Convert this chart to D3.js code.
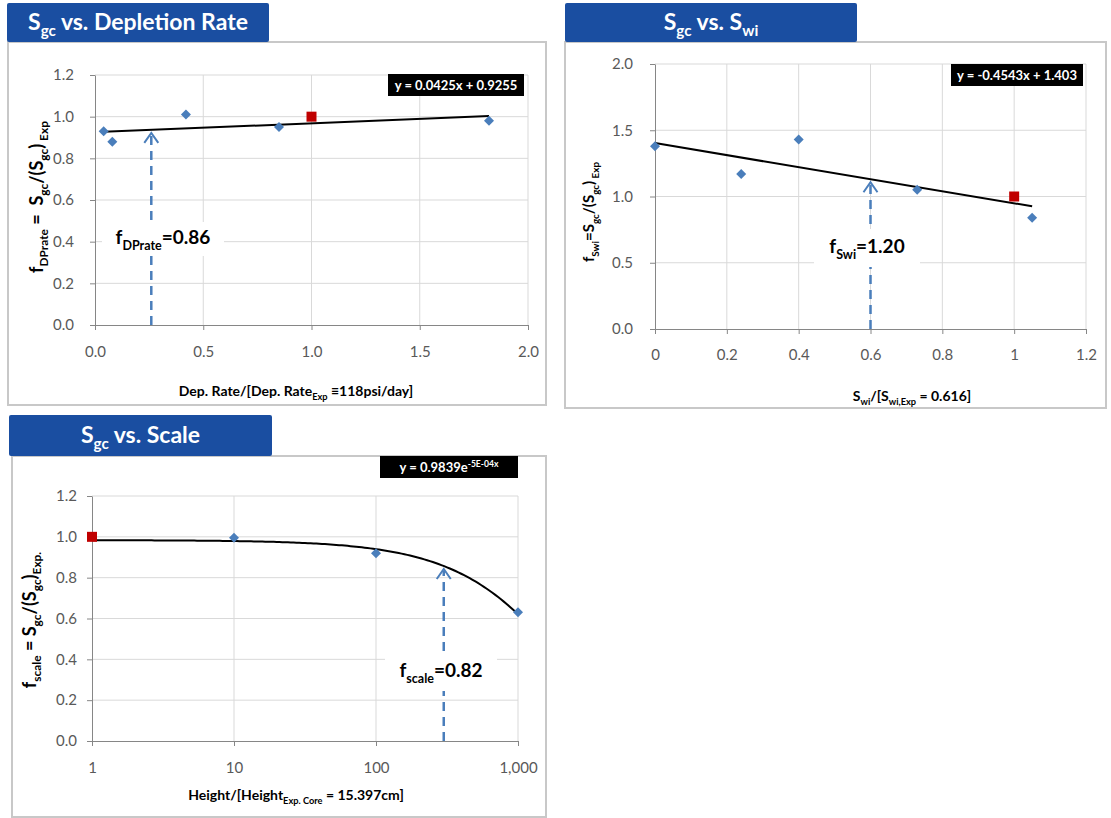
<!DOCTYPE html>
<html>
<head>
<meta charset="utf-8">
<script src="https://cdn.jsdelivr.net/npm/d3@7"></script>
<style>
  html, body { margin: 0; padding: 0; background: #fff; }
  svg { display: block; font-family: Lato, "Open Sans", sans-serif; }
  text { white-space: pre; }
</style>
</head>
<body>
<svg id="chart" width="1111" height="818"></svg>
<script>
// ---- data ----
// Sgc vs. Depletion Rate
const dpRateX = [0.04, 0.08, 0.42, 0.85, 1.82];
const dpRateY = [0.93, 0.88, 1.01, 0.95, 0.98];
const dpRefX = [1.0];
const dpRefY = [1.0];
const dpTicksX = [0, 0.5, 1.0, 1.5, 2.0];
const dpTicksY = [0, 0.2, 0.4, 0.6, 0.8, 1.0, 1.2];
const dpTrend = [0.0425, 0.9255]; // slope, intercept
const dpPickX = 0.26;
const dpPickLabel = "0.86";

// Sgc vs. Swi
const swiX = [0, 0.24, 0.40, 0.73, 1.05];
const swiY = [1.38, 1.17, 1.43, 1.05, 0.84];
const swiRefX = [1.0];
const swiRefY = [1.0];
const swiTicksX = [0, 0.2, 0.4, 0.6, 0.8, 1, 1.2];
const swiTicksY = [0, 0.5, 1.0, 1.5, 2.0];
const swiTrend = [-0.4543, 1.403];
const swiPickX = 0.6;
const swiPickLabel = "1.20";

// Sgc vs. Scale
const scaleX = [10, 100, 1000];
const scaleY = [0.995, 0.92, 0.63];
const scaleRefX = [1];
const scaleRefY = [1.0];
const scaleTicksX = [1, 10, 100, 1000];
const scaleTicksY = [0, 0.2, 0.4, 0.6, 0.8, 1.0, 1.2];
const scaleTrend = [0.9839, -4.6e-4]; // a, k  (y = a e^(k x))
const scalePickX = 300;
const scalePickLabel = "0.82";

const BLUE = "#4a7ebb";
const RED = "#c00000";
const TITLE_BG = "#1a4ea1";

const svg = d3.select("#chart");

// text with sub / superscript parts
function rich(sel, parts, fs) {
  let shift = 0;
  parts.forEach(p => {
    const [t, mode] = Array.isArray(p) ? p : [p, null];
    const target = mode === "sub" ? fs * 0.3 : mode === "sup" ? -fs * 0.42 : 0;
    sel.append("tspan")
      .attr("dy", target - shift)
      .style("font-size", (mode ? fs * 0.66 : fs) + "px")
      .text(t);
    shift = target;
  });
  return sel;
}

function drawChart(c) {
  const g = svg.append("g");

  // panel frame + title tab
  g.append("rect")
    .attr("x", c.panel[0]).attr("y", c.panel[1])
    .attr("width", c.panel[2]).attr("height", c.panel[3])
    .attr("fill", "#fff").attr("stroke", "#c8c8c8").attr("stroke-width", 2);
  g.append("rect")
    .attr("x", c.title[0]).attr("y", c.title[1])
    .attr("width", c.title[2]).attr("height", c.title[3])
    .attr("rx", 2).attr("fill", TITLE_BG);
  rich(g.append("text")
    .attr("x", c.title[0] + c.title[2] / 2).attr("y", c.title[1] + c.title[3] / 2 + 7)
    .attr("text-anchor", "middle").attr("fill", "#fff").attr("font-weight", "bold"),
    c.titleText, 23);

  const x = c.x, y = c.y;
  const [x0, x1] = x.range();
  const [y0, y1] = y.range();

  // gridlines
  g.append("g").selectAll("line").data(c.ticksY.slice(1)).join("line")
    .attr("x1", x0).attr("x2", x1)
    .attr("y1", d => y(d)).attr("y2", d => y(d))
    .attr("stroke", "#d9d9d9").attr("stroke-width", 1);
  g.append("g").selectAll("line").data(c.ticksX.slice(1)).join("line")
    .attr("x1", d => x(d)).attr("x2", d => x(d))
    .attr("y1", y0).attr("y2", y1)
    .attr("stroke", "#d9d9d9").attr("stroke-width", 1);

  // axes
  const xAxis = g.append("g")
    .attr("transform", `translate(0,${y0})`)
    .call(d3.axisBottom(x).tickValues(c.ticksX).tickFormat(c.fmtX)
      .tickSize(5).tickSizeOuter(0).tickPadding(c.padX));
  const yAxis = g.append("g")
    .attr("transform", `translate(${x0},0)`)
    .call(d3.axisLeft(y).tickValues(c.ticksY).tickFormat(c.fmtY)
      .tickSize(5).tickSizeOuter(0).tickPadding(c.padY));
  [xAxis, yAxis].forEach(a => {
    a.select(".domain").attr("stroke", "#868686");
    a.selectAll(".tick line").attr("stroke", "#868686");
    a.selectAll(".tick text").attr("fill", "#595959")
      .style("font-size", "15px").style("font-family", "Lato, 'Open Sans', sans-serif");
  });

  // axis titles
  rich(g.append("text")
    .attr("x", c.xTitle[0]).attr("y", c.xTitle[1])
    .attr("text-anchor", "middle").attr("font-weight", "bold").attr("fill", "#000"),
    c.xTitleText, 14);
  rich(g.append("text")
    .attr("transform", `translate(${c.yTitle[0]},${c.yTitle[1]}) rotate(-90)`)
    .attr("text-anchor", "middle").attr("font-weight", "bold").attr("fill", "#000"),
    c.yTitleText, c.yTitleSize);

  // trend line
  g.append("path")
    .datum(c.trendPts)
    .attr("d", d3.line().x(d => x(d[0])).y(d => y(d[1])))
    .attr("fill", "none").attr("stroke", "#000").attr("stroke-width", 2);

  // markers
  const pts = c.xs.map((v, i) => [v, c.ys[i]]);
  g.append("g").selectAll("path").data(pts).join("path")
    .attr("d", d3.symbol(d3.symbolSquare, 50))
    .attr("transform", d => `translate(${x(d[0])},${y(d[1])}) rotate(45)`)
    .attr("fill", BLUE);
  const refs = c.refX.map((v, i) => [v, c.refY[i]]);
  g.append("g").selectAll("path").data(refs).join("path")
    .attr("d", d3.symbol(d3.symbolSquare, 100))
    .attr("transform", d => `translate(${x(d[0])},${y(d[1])})`)
    .attr("fill", RED);

  // pick arrow
  const ax = x(c.pickX);
  const tip = y(c.trend(c.pickX)) + 3;
  g.append("line")
    .attr("x1", ax).attr("x2", ax).attr("y1", y0).attr("y2", tip + 2)
    .attr("stroke", BLUE).attr("stroke-width", 2.5).attr("stroke-dasharray", "9 6");
  g.append("path")
    .attr("d", `M${ax - 7},${tip + 10}L${ax},${tip}L${ax + 7},${tip + 10}`)
    .attr("fill", "none").attr("stroke", BLUE).attr("stroke-width", 2);

  // pick label
  const lb = c.pickBox;
  g.append("rect").attr("x", lb[0]).attr("y", lb[1]).attr("width", lb[2]).attr("height", lb[3])
    .attr("fill", "#fff");
  rich(g.append("text")
    .attr("x", lb[0] + lb[2] / 2).attr("y", lb[1] + lb[3] / 2 + 5)
    .attr("text-anchor", "middle").attr("font-weight", "bold").attr("fill", "#000"),
    c.pickText, 19);

  // equation box
  const eb = c.eqBox;
  g.append("rect").attr("x", eb[0]).attr("y", eb[1]).attr("width", eb[2]).attr("height", eb[3])
    .attr("fill", "#000");
  rich(g.append("text")
    .attr("x", eb[0] + eb[2] / 2).attr("y", eb[1] + eb[3] / 2 + 5)
    .attr("text-anchor", "middle").attr("font-weight", "bold").attr("fill", "#fff"),
    c.eqText, 13);
}

// chart 1
const lin1 = v => dpTrend[0] * v + dpTrend[1];
drawChart({
  panel: [8, 42, 538, 363],
  title: [7, 3, 262, 39],
  titleText: ["S", ["gc", "sub"], " vs. Depletion Rate"],
  x: d3.scaleLinear().domain([0, 2]).range([95, 528]),
  y: d3.scaleLinear().domain([0, 1.2]).range([325, 75]),
  ticksX: dpTicksX, ticksY: dpTicksY,
  fmtX: d3.format(".1f"), fmtY: d3.format(".1f"),
  padX: 16, padY: 16,
  xTitle: [296, 396],
  xTitleText: ["Dep. Rate/[Dep. Rate", ["Exp", "sub"], " \u2261118psi/day]"],
  yTitle: [43, 197], yTitleSize: 18,
  yTitleText: ["f", ["DPrate", "sub"], " =  S", ["gc", "sub"], "/(S", ["gc", "sub"], ")", [" Exp", "sub"]],
  xs: dpRateX, ys: dpRateY, refX: dpRefX, refY: dpRefY,
  trend: lin1,
  trendPts: d3.extent(dpRateX).map(v => [v, lin1(v)]),
  pickX: dpPickX,
  pickBox: [102, 222, 122, 34],
  pickText: ["f", ["DPrate", "sub"], "=" + dpPickLabel],
  eqBox: [388, 74, 136, 22],
  eqText: ["y = 0.0425x + 0.9255"]
});

// chart 2
const lin2 = v => swiTrend[0] * v + swiTrend[1];
drawChart({
  panel: [565, 42, 541, 366],
  title: [565, 3, 292, 39],
  titleText: ["S", ["gc", "sub"], " vs. S", ["wi", "sub"]],
  x: d3.scaleLinear().domain([0, 1.2]).range([655, 1086]),
  y: d3.scaleLinear().domain([0, 2]).range([329, 64]),
  ticksX: swiTicksX, ticksY: swiTicksY,
  fmtX: d3.format(""), fmtY: d3.format(".1f"),
  padX: 15, padY: 17,
  xTitle: [912, 401],
  xTitleText: ["S", ["wi", "sub"], "/[S", ["wi,Exp", "sub"], " = 0.616]"],
  yTitle: [594, 212], yTitleSize: 15,
  yTitleText: ["f", ["Swi", "sub"], "=S", ["gc", "sub"], "/(S", ["gc", "sub"], ")", [" Exp", "sub"]],
  xs: swiX, ys: swiY, refX: swiRefX, refY: swiRefY,
  trend: lin2,
  trendPts: d3.extent(swiX).map(v => [v, lin2(v)]),
  pickX: swiPickX,
  pickBox: [814, 229, 106, 38],
  pickText: ["f", ["Swi", "sub"], "=" + swiPickLabel],
  eqBox: [951, 64, 132, 22],
  eqText: ["y = -0.4543x + 1.403"]
});

// chart 3
const exp3 = v => scaleTrend[0] * Math.exp(scaleTrend[1] * v);
const x3 = d3.scaleLog().domain([1, 1000]).range([92, 518]);
drawChart({
  panel: [12, 456, 534, 361],
  title: [9, 415, 263, 41],
  titleText: ["S", ["gc", "sub"], " vs. Scale"],
  x: x3,
  y: d3.scaleLinear().domain([0, 1.2]).range([741, 496]),
  ticksX: scaleTicksX, ticksY: scaleTicksY,
  fmtX: d3.format(","), fmtY: d3.format(".1f"),
  padX: 16, padY: 10,
  xTitle: [296, 800],
  xTitleText: ["Height/[Height", ["Exp. Core", "sub"], " = 15.397cm]"],
  yTitle: [36, 620], yTitleSize: 18,
  yTitleText: ["f", ["scale", "sub"], " = S", ["gc", "sub"], "/(S", ["gc", "sub"], ")", ["Exp.", "sub"]],
  xs: scaleX, ys: scaleY, refX: scaleRefX, refY: scaleRefY,
  trend: exp3,
  trendPts: d3.range(0, 3.001, 0.02).map(e => Math.pow(10, e)).map(v => [v, exp3(v)]),
  pickX: scalePickX,
  pickBox: [385, 653, 112, 38],
  pickText: ["f", ["scale", "sub"], "=" + scalePickLabel],
  eqBox: [380, 456, 138, 22],
  eqText: ["y = 0.9839e", ["-5E-04x", "sup"]]
});
</script>
</body>
</html>
